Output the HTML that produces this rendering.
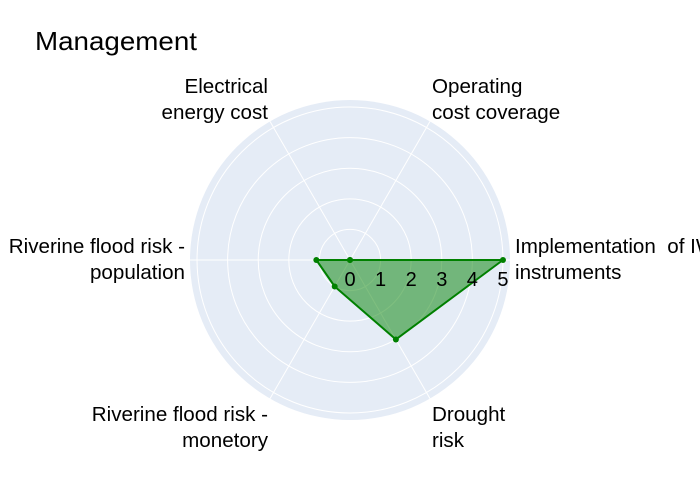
<!DOCTYPE html>
<html><head><meta charset="utf-8"><style>
body{margin:0;background:#fff}
svg{display:block;font-family:"Liberation Sans",Arial,sans-serif}
</style></head><body>
<svg id="c" width="700" height="500">
<rect width="700" height="500" fill="#fff"/>
<text x="35" y="50" font-size="26" textLength="162" lengthAdjust="spacingAndGlyphs" fill="#000">Management</text>
<g id="g"></g>
</svg>
<script>
const categories=[["Implementation\u00a0 of IW","instruments"],["Operating","cost coverage"],["Electrical","energy cost"],["Riverine flood risk -","population"],["Riverine flood risk -","monetory"],["Drought","risk"]];
const values=[5,0,0,1.1,1.0,3.0];
const tickLabels=[0,1,2,3,4,5];
const cx=350,cy=260,R=160,rMax=5.23;
const g=document.getElementById('g');
const NS='http://www.w3.org/2000/svg';
function el(t,a){const e=document.createElementNS(NS,t);for(const k in a)e.setAttribute(k,a[k]);g.appendChild(e);return e;}
function rs(v){return v/rMax*R;}
function ang(i){return i*2*Math.PI/categories.length;}
function pt(i,v){const a=ang(i);return [cx+rs(v)*Math.cos(a),cy-rs(v)*Math.sin(a)];}
const bg=el('circle',{cx:cx,cy:cy,r:R,fill:'#e5ecf6'});


tickLabels.forEach(t=>{if(t>0){const c=el('circle',{cx:cx,cy:cy,r:rs(t),fill:'none',stroke:'#fff','stroke-width':1});

}});
categories.forEach((c,i)=>{const p=pt(i,rMax);const l=el('line',{x1:cx,y1:cy,x2:p[0],y2:p[1],stroke:'#fff','stroke-width':1});

});
const pts=values.map((v,i)=>pt(i,v));
const poly=el('polygon',{points:pts.map(p=>p.join(',')).join(' '),fill:'rgba(0,128,0,0.5)',stroke:'#008000','stroke-width':2,'stroke-linejoin':'round'});


pts.forEach(p=>{const m=el('circle',{cx:p[0],cy:p[1],r:3,fill:'#008000'});

});
tickLabels.forEach(t=>{const x=cx+rs(t);const tx=el('text',{x:x,y:286,'font-size':20,'text-anchor':'middle',fill:'#000'});tx.textContent=t;

});
categories.forEach((c,i)=>{const a=ang(i);const ca=Math.cos(a),sa=Math.sin(a);
const anchor=ca>0.01?'start':'end';
const yb=sa>0.1?93:(sa<-0.1?421:253);
const xx=Math.abs(sa)<0.1?(ca>0?515:185):(ca>0?432:268);
c.forEach((line,k)=>{const t=el('text',{x:xx,y:yb+k*26,'font-size':20.6,'text-anchor':anchor,fill:'#000'});t.textContent=line;

});
});
</script>
</body></html>
